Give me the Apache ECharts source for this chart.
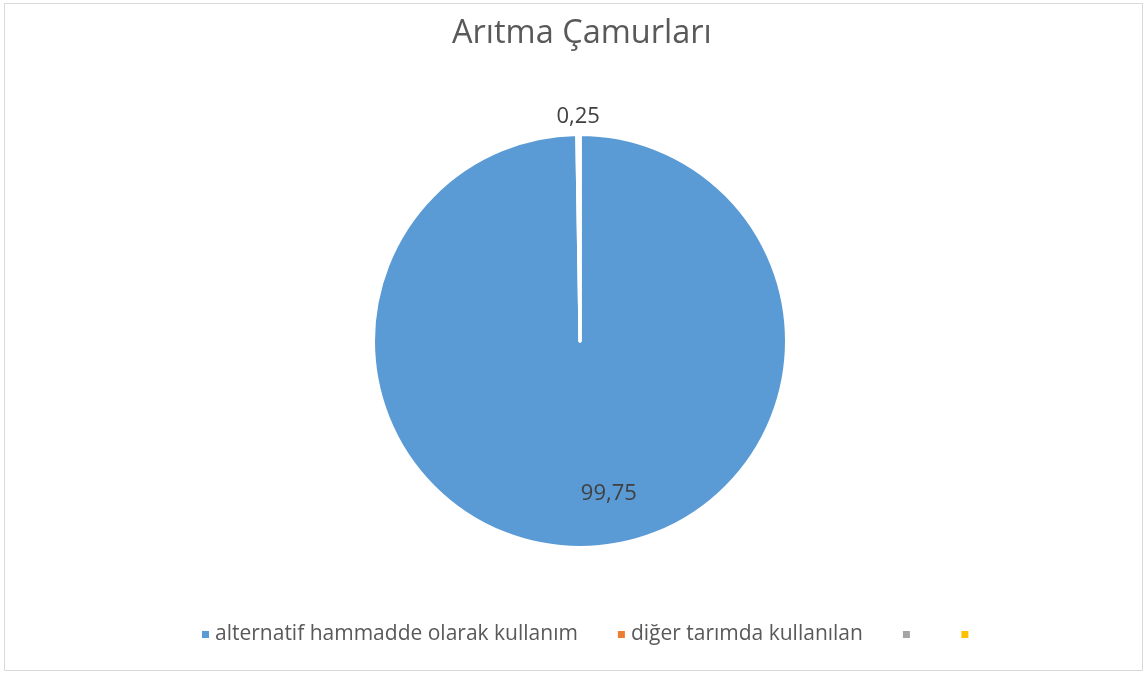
<!DOCTYPE html>
<html>
<head>
<meta charset="utf-8">
<script src="https://cdn.jsdelivr.net/npm/echarts@6/dist/echarts.min.js"></script>
<style>
  html, body { margin: 0; padding: 0; background: #fff; }
  #chart { width: 1147px; height: 675px; }
</style>
</head>
<body>
<div id="chart"></div>
<script>
// veriler
var categories = ['alternatif hammadde olarak kullanım', 'diğer tarımda kullanılan', ' ', '  '];
var values = [99.75, 0.25, 0, 0];
var labels = ['99,75', '0,25', '', ''];
var colors = ['#5b9bd5', '#ed7d31', '#a5a5a5', '#ffc000'];
// etiket kaydırmaları (inside konumuna göre)
var labelOffsets = [[28, 46], [-1, -118], [0, 0], [0, 0]];

var chart = echarts.init(document.getElementById('chart'));

var pieData = categories.map(function (name, i) {
  return {
    name: name,
    value: values[i],
    itemStyle: { color: colors[i] },
    label: {
      show: values[i] > 0,
      position: 'inside',
      offset: labelOffsets[i],
      formatter: labels[i]
    }
  };
});

chart.setOption({
  backgroundColor: '#fff',
  animation: false,
  title: {
    text: 'Arıtma Çamurları',
    left: 447,
    top: 12,
    textStyle: { fontFamily: 'Open Sans', fontWeight: 'normal', fontSize: 32.5, color: '#595959' }
  },
  legend: {
    data: categories,
    bottom: 25,
    left: 195,
    icon: 'rect',
    itemWidth: 9,
    itemHeight: 9,
    itemGap: 38,
    textStyle: { fontFamily: 'Open Sans', fontSize: 21, color: '#595959' }
  },
  graphic: [{
    type: 'rect',
    shape: { x: 4.5, y: 3.5, width: 1138, height: 667 },
    style: { fill: null, stroke: '#d9d9d9', lineWidth: 1 },
    silent: true
  }],
  series: [{
    type: 'pie',
    center: [580, 341],
    radius: [0, 206.5],
    startAngle: 90,
    clockwise: true,
    minAngle: 0,
    avoidLabelOverlap: false,
    itemStyle: { borderColor: '#fff', borderWidth: 3 },
    label: { color: '#404040', fontFamily: 'Open Sans', fontSize: 22 },
    labelLine: { show: false },
    emphasis: { disabled: true },
    data: pieData
  }]
});
</script>
</body>
</html>
